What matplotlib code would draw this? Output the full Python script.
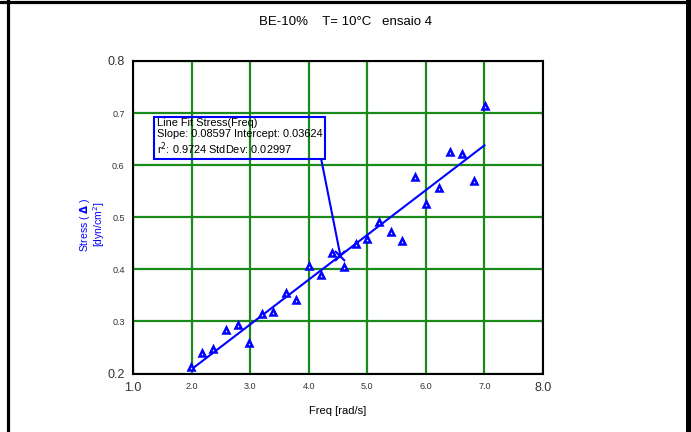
import matplotlib
matplotlib.use("Agg")
import matplotlib.pyplot as plt
from matplotlib.lines import Line2D
import numpy as np

plt.rcParams['font.family'] = ['Liberation Sans', 'DejaVu Sans']

freq = [1.99, 2.17, 2.37, 2.59, 2.79, 2.98, 3.20, 3.39, 3.61, 3.79,
        4.00, 4.21, 4.40, 4.60, 4.80, 4.99, 5.20, 5.41, 5.60, 5.82,
        6.01, 6.22, 6.41, 6.61, 6.82, 7.01]
stress = [0.213, 0.240, 0.248, 0.283, 0.294, 0.259, 0.314, 0.319, 0.354, 0.341,
          0.406, 0.390, 0.432, 0.405, 0.448, 0.459, 0.490, 0.471, 0.454, 0.577,
          0.525, 0.556, 0.625, 0.621, 0.570, 0.713]
slope = 0.08597
intercept = 0.03624
r2 = 0.9724
stddev = 0.02997
fit_x = [2.0, 7.0]
probe_x = 4.54

xticks = [1, 2, 3, 4, 5, 6, 7, 8]
yticks = [0.2, 0.3, 0.4, 0.5, 0.6, 0.7, 0.8]

fig = plt.figure(figsize=(6.91, 4.32), dpi=100)
ax = fig.add_axes([0.1925, 0.1354, 0.5933, 0.7234])

ax.set_xlim(1, 8)
ax.set_ylim(0.2, 0.8)
ax.set_xticks(xticks)
ax.set_yticks(yticks)
ax.set_xticklabels([f"{v:.1f}" for v in xticks])
ax.set_yticklabels([f"{v:.1f}" for v in yticks])
for i, lab in enumerate(ax.get_xticklabels()):
    lab.set_fontsize(9 if i in (0, len(xticks) - 1) else 6.5)
    lab.set_color('#333333')
for i, lab in enumerate(ax.get_yticklabels()):
    lab.set_fontsize(9 if i in (0, len(yticks) - 1) else 6.5)
    lab.set_color('#333333')
ax.tick_params(length=0, pad=6)
ax.grid(True, color='#1a8a1a', lw=1.6)
ax.set_axisbelow(True)
for s in ax.spines.values():
    s.set_linewidth(1.5)
    s.set_color('black')

fx = np.array(fit_x)
ax.plot(fx, slope * fx + intercept, color='blue', lw=1.5, zorder=3)
ax.plot(freq, stress, linestyle='none', marker='^', ms=5, mfc='white',
        mec='blue', mew=1.8, zorder=4)

py = slope * probe_x + intercept
ax.plot([probe_x], [py], marker='x', color='blue', ms=7, mew=1.5, zorder=5)

txt = ("Line Fit Stress(Freq)\n"
       f"Slope: {slope:.5f} Intercept: {intercept:.5f}\n"
       f"r$^2$: {r2:.4f} StdDev: {stddev:.5f}")
ax.annotate(txt, xy=(probe_x, py), xycoords='data',
            xytext=(0.058, 0.817), textcoords='axes fraction',
            ha='left', va='top', fontsize=7.9, color='black', linespacing=1.1,
            bbox=dict(boxstyle='square,pad=0.22', fc='none', ec='blue', lw=1.5),
            arrowprops=dict(arrowstyle='-', color='blue', lw=1.5,
                            relpos=(0.99, 0.0), shrinkA=0, shrinkB=0),
            zorder=6)

ax.set_xlabel("Freq [rad/s]", fontsize=8, labelpad=9)
fig.text(0.134, 0.48, "Stress ( $\\mathbf{\\Delta}$ )\n[dyn/cm$^2$]", rotation=90,
         color='blue', fontsize=7.5, ha='center', va='center', linespacing=1.0,
         multialignment='center')

fig.text(0.5, 0.949, "BE-10%    T= 10°C   ensaio 4", ha='center', va='center',
         fontsize=9.5)

fig.add_artist(Line2D([0, 1], [1 - 1.5 / 432] * 2, color='black', lw=2.3,
                      transform=fig.transFigure))
fig.add_artist(Line2D([8 / 691] * 2, [0, 1], color='black', lw=2.3,
                      transform=fig.transFigure))
fig.add_artist(Line2D([687.5 / 691] * 2, [0, 1], color='black', lw=3.6,
                      transform=fig.transFigure))

fig.savefig("out.png", dpi=100)
